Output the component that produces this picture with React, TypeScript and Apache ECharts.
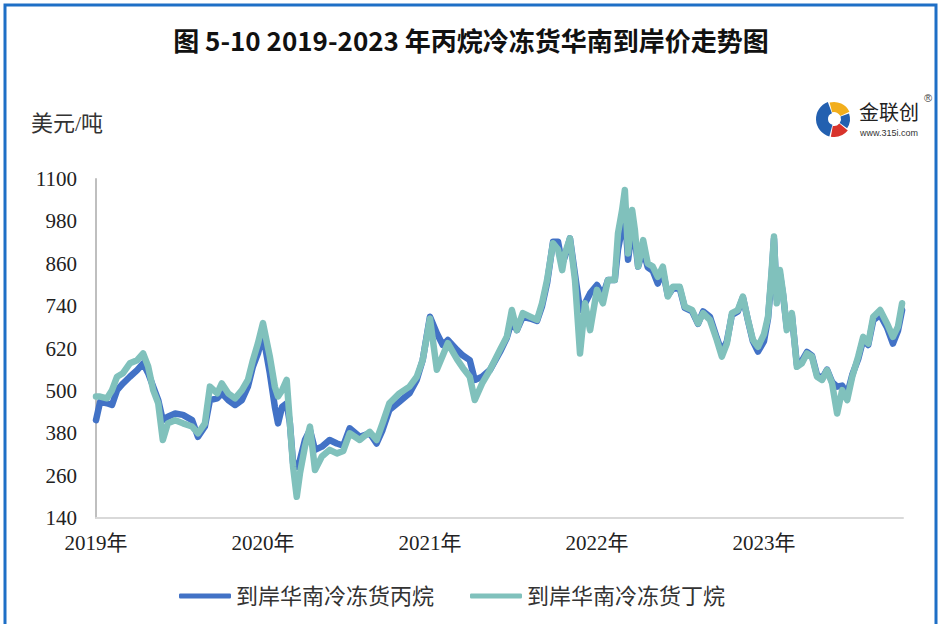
import React, { useEffect, useRef } from 'react';
import * as echarts from 'echarts';

const titleText = '图 5-10 2019-2023 年丙烷冷冻货华南到岸价走势图';
const unitText = '美元/吨';
const seriesNames = ['到岸华南冷冻货丙烷', '到岸华南冷冻货丁烷'];
const yearTicks = [2019, 2020, 2021, 2022, 2023];
const yMin = 140;
const yMax = 1100;
const yStep = 120;
const xEnd = '2023-11-01';

const dates = [
  '2019-01-01', '2019-01-10', '2019-01-25', '2019-02-05', '2019-02-16', '2019-03-01', '2019-03-16', '2019-04-01',
  '2019-04-14', '2019-04-25', '2019-05-06', '2019-05-17', '2019-05-27', '2019-06-07', '2019-06-23', '2019-07-10',
  '2019-07-30', '2019-08-12', '2019-08-27', '2019-09-07', '2019-09-23', '2019-10-03', '2019-10-17', '2019-11-01',
  '2019-11-16', '2019-11-29', '2019-12-10', '2019-12-21',
  '2020-01-01', '2020-01-16', '2020-01-27', '2020-02-03', '2020-02-12', '2020-02-22', '2020-02-29', '2020-03-07',
  '2020-03-15', '2020-03-22', '2020-04-02', '2020-04-13', '2020-04-24', '2020-05-09', '2020-05-26', '2020-06-11',
  '2020-06-25', '2020-07-09', '2020-07-31', '2020-08-22', '2020-09-06', '2020-09-19', '2020-10-04', '2020-10-26',
  '2020-11-17', '2020-12-03', '2020-12-16',
  '2021-01-01', '2021-01-16', '2021-01-29', '2021-02-09', '2021-03-01', '2021-03-14', '2021-03-29', '2021-04-09',
  '2021-04-25', '2021-05-12', '2021-06-03', '2021-06-18', '2021-06-29', '2021-07-10', '2021-07-23', '2021-08-08',
  '2021-08-23', '2021-09-03', '2021-09-14', '2021-09-27', '2021-10-08', '2021-10-17', '2021-10-23', '2021-11-03',
  '2021-11-14', '2021-11-25', '2021-12-06', '2021-12-17',
  '2022-01-01', '2022-01-14', '2022-01-25', '2022-02-09', '2022-02-16', '2022-02-25', '2022-03-03', '2022-03-10',
  '2022-03-19', '2022-03-25', '2022-04-01', '2022-04-12', '2022-04-22', '2022-05-03', '2022-05-14', '2022-05-25',
  '2022-06-05', '2022-06-16', '2022-07-01', '2022-07-12', '2022-07-28', '2022-08-10', '2022-08-21', '2022-09-05',
  '2022-09-20', '2022-10-01', '2022-10-12', '2022-10-23', '2022-11-05', '2022-11-16', '2022-11-27', '2022-12-08',
  '2022-12-19',
  '2023-01-01', '2023-01-10', '2023-01-18', '2023-01-23', '2023-01-29', '2023-02-05', '2023-02-12', '2023-02-20',
  '2023-03-03', '2023-03-14', '2023-03-25', '2023-04-05', '2023-04-16', '2023-04-27', '2023-05-08', '2023-05-19',
  '2023-05-30', '2023-06-10', '2023-06-21', '2023-07-02', '2023-07-13', '2023-07-26', '2023-08-06', '2023-08-17',
  '2023-08-28', '2023-09-12', '2023-09-27', '2023-10-10', '2023-10-21', '2023-10-30',
];

const propane = [
  417, 469, 465, 460, 502, 521, 540, 559, 578, 550, 512, 474, 417, 427, 436, 432, 417, 370, 399, 474, 479, 493, 474, 460,
  474, 512, 569, 606,
  660, 550, 455, 408, 455, 465, 408, 295, 285, 304, 361, 389, 333, 342, 361, 351, 345, 394, 370, 380, 351, 389, 446, 469,
  493, 531, 587,
  710, 663, 630, 644, 616, 600, 587, 531, 540, 559, 610, 650, 700, 672, 710, 705, 698, 740, 805, 922, 922, 860, 880, 932,
  830, 729, 748, 776,
  800, 770, 814, 814, 900, 960, 1000, 871, 960, 930, 852, 900, 850, 840, 804, 840, 770, 790, 790, 735, 725, 690, 725, 710,
  650, 610, 640, 715, 725, 765, 700, 640, 611,
  640, 705, 830, 930, 760, 830, 770, 680, 715, 575, 585, 610, 600, 545, 535, 560, 525, 512, 515, 490, 545, 590, 645, 630,
  700, 715, 680, 634, 670, 729,
];

const butane = [
  484, 484, 479, 502, 540, 550, 578, 587, 606, 569, 502, 465, 361, 408, 417, 408, 399, 380, 408, 512, 493, 521, 493, 479,
  502, 531, 587, 635,
  692, 597, 512, 484, 502, 531, 408, 285, 200, 266, 342, 399, 276, 314, 333, 323, 330, 380, 361, 384, 361, 408, 465, 493,
  512, 540, 587,
  705, 560, 600, 635, 590, 565, 540, 474, 521, 559, 616, 653, 729, 672, 720, 710, 701, 748, 814, 918, 900, 842, 889, 932,
  814, 606, 748, 672,
  786, 748, 814, 814, 946, 1012, 1069, 889, 1012, 955, 852, 927, 861, 852, 823, 852, 767, 795, 795, 738, 729, 691, 720, 701,
  644, 597, 634, 720, 729, 767, 701, 644, 625,
  660, 710, 842, 937, 748, 842, 776, 672, 720, 568, 578, 606, 597, 540, 531, 559, 521, 436, 502, 474, 540, 597, 653, 634,
  710, 729, 691, 653, 682, 748,
];

const toYear = (s: string) => {
  const [y, m, d] = s.split('-').map(Number);
  const start = Date.UTC(y, 0, 1);
  const end = Date.UTC(y + 1, 0, 1);
  return y + (Date.UTC(y, m - 1, d) - start) / (end - start);
};

const serifFont = "'Liberation Serif', 'Noto Sans CJK SC', serif";
const deg = (a: number) => (a * Math.PI) / 180;

export default function App() {
  const ref = useRef<HTMLDivElement>(null);
  useEffect(() => {
    document.body.style.margin = '0';
    const chart = echarts.init(ref.current as HTMLDivElement, null, { renderer: 'svg' });
    const xs = dates.map(toYear);
    const cx = 834;
    const cy = 119;
    chart.setOption({
      animation: false,
      backgroundColor: '#ffffff',
      grid: { left: 96, right: 39, top: 179, bottom: 106, containLabel: false },
      xAxis: {
        type: 'value',
        min: yearTicks[0],
        max: toYear(xEnd),
        interval: 1,
        axisLine: { show: true, lineStyle: { color: '#d9d9d9', width: 2 } },
        axisTick: { show: false },
        splitLine: { show: false },
        axisLabel: {
          show: true,
          margin: 14,
          fontSize: 21,
          color: '#222',
          fontFamily: serifFont,
          showMaxLabel: false,
          formatter: (v: number) => (yearTicks.includes(Math.round(v)) && Math.abs(v - Math.round(v)) < 1e-6 ? `${Math.round(v)}年` : ''),
        },
      },
      yAxis: {
        type: 'value',
        min: yMin,
        max: yMax,
        interval: yStep,
        axisLine: { show: true, lineStyle: { color: '#bfbfbf', width: 2 } },
        axisTick: { show: false },
        splitLine: { show: false },
        axisLabel: { margin: 19, fontSize: 21, color: '#222', fontFamily: serifFont, formatter: (v: number) => String(v) },
      },
      legend: {
        left: 174,
        top: 580,
        icon: 'roundRect',
        itemWidth: 52,
        itemHeight: 5,
        itemGap: 36,
        textStyle: { fontSize: 22, color: '#333', fontFamily: serifFont },
        data: seriesNames,
      },
      series: [
        {
          name: seriesNames[0],
          type: 'line',
          symbol: 'none',
          data: xs.map((x, i) => [x, propane[i]]),
          lineStyle: { width: 6.5, color: '#4272c6', cap: 'round', join: 'round' },
          itemStyle: { color: '#4272c6' },
          z: 2,
        },
        {
          name: seriesNames[1],
          type: 'line',
          symbol: 'none',
          data: xs.map((x, i) => [x, butane[i]]),
          lineStyle: { width: 6.5, color: '#80c1bc', cap: 'round', join: 'round' },
          itemStyle: { color: '#80c1bc' },
          z: 3,
        },
      ],
      graphic: [
        {
          type: 'rect',
          shape: { x: 5, y: 5, width: 931, height: 700 },
          style: { fill: 'none', stroke: '#1e6fc6', lineWidth: 3 },
          silent: true,
        },
        {
          type: 'text',
          x: 471,
          y: 39,
          style: {
            text: titleText,
            fontSize: 26,
            fontWeight: 'bold',
            fontFamily: "'Noto Sans CJK SC', sans-serif",
            fill: '#111',
            textAlign: 'center',
            textVerticalAlign: 'middle',
          },
        },
        {
          type: 'text',
          x: 31,
          y: 123,
          style: {
            text: unitText,
            fontSize: 22,
            fontFamily: serifFont,
            fill: '#333',
            textAlign: 'left',
            textVerticalAlign: 'middle',
          },
        },
        {
          type: 'group',
          children: [
            { type: 'sector', shape: { cx, cy, r0: 6, r: 18, startAngle: deg(105), endAngle: deg(250) }, style: { fill: '#2360b0' } },
            { type: 'sector', shape: { cx, cy, r0: 7, r: 17, startAngle: deg(255), endAngle: deg(335) }, style: { fill: '#f2ae1c' } },
            { type: 'sector', shape: { cx, cy, r0: 7, r: 16, startAngle: deg(340), endAngle: deg(395) }, style: { fill: '#2360b0' } },
            { type: 'sector', shape: { cx, cy, r0: 7, r: 18, startAngle: deg(40), endAngle: deg(100) }, style: { fill: '#d8332b' } },
            {
              type: 'text',
              x: 859,
              y: 111,
              style: { text: '金联创', fontSize: 20, fontFamily: "'Noto Sans CJK SC', sans-serif", fill: '#222', textAlign: 'left', textVerticalAlign: 'middle' },
            },
            {
              type: 'text',
              x: 860,
              y: 133,
              style: { text: 'www.315i.com', fontSize: 9, fontFamily: "'Liberation Sans', sans-serif", fill: '#333', textAlign: 'left', textVerticalAlign: 'middle' },
            },
            {
              type: 'text',
              x: 928,
              y: 98,
              style: { text: '®', fontSize: 11, fontFamily: "'Liberation Sans', sans-serif", fill: '#444', textAlign: 'center', textVerticalAlign: 'middle' },
            },
          ],
        },
      ],
    });
    return () => chart.dispose();
  }, []);
  return <div ref={ref} style={{ width: 942, height: 624 }} />;
}
